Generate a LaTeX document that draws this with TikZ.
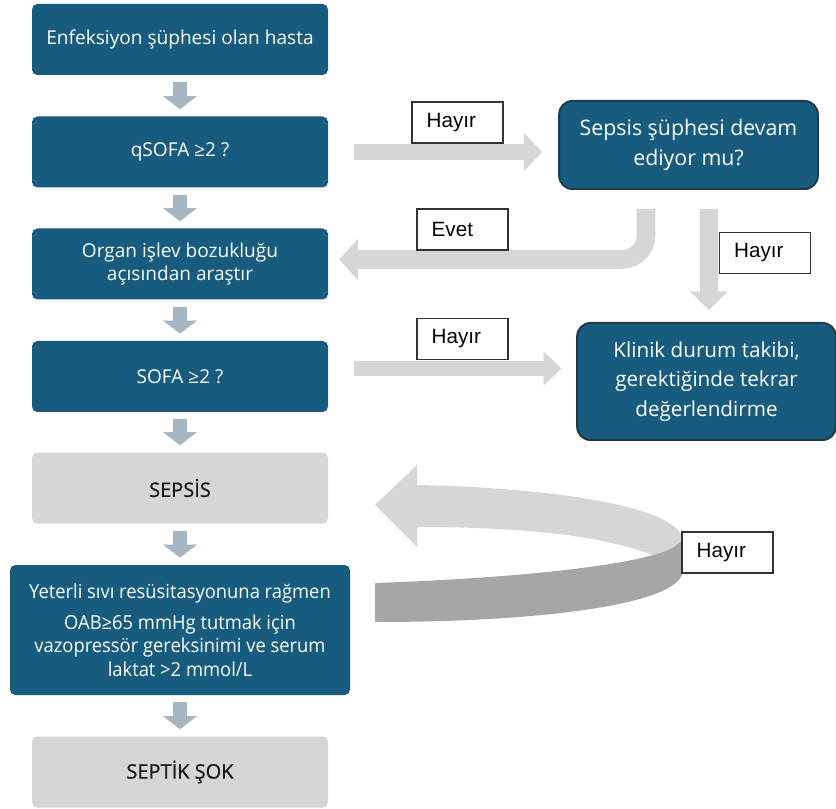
\documentclass[tikz,border=0pt]{standalone}
\usepackage{fontspec}
\setmainfont{Open Sans}
\newfontfamily\narrowfont[FakeStretch=0.95]{Open Sans}
\newfontfamily\grayfont[FakeBold=0.8]{Open Sans}
\newfontfamily\labelfont{Liberation Sans}
\usepackage{tikz}
\usetikzlibrary{positioning,arrows.meta}
\definecolor{boxblue}{HTML}{175C7E}
\definecolor{boxgray}{HTML}{D6D6D6}
\definecolor{flowgray}{HTML}{A7B4C2}
\definecolor{ribbon}{HTML}{A6A6A6}
\definecolor{edgeblue}{HTML}{1E3A4C}

\begin{document}
\begin{tikzpicture}[x=0.75pt,y=-0.75pt,
    box/.style={rounded corners=4pt,fill=boxblue,text=white,minimum width=222pt,minimum height=53.25pt,align=center,font=\fontsize{14.3}{17}\selectfont},
    graybox/.style={box,fill=boxgray,text=black!90,font=\grayfont\fontsize{15}{17}\selectfont},
    sidebox/.style={box,rounded corners=10pt,draw=edgeblue,line width=1.5pt,minimum width=194pt},
    answer/.style={draw=black!80,line width=0.8pt,fill=white,text width=46.25pt,inner xsep=11pt,minimum height=30.75pt,align=left,font=\labelfont\fontsize{15.5}{17}\selectfont},
    down/.style={draw=flowgray,line width=10.5pt,-{Triangle[length=9.75pt,width=24.75pt]},shorten <=5.25pt,shorten >=5.25pt},
    wide/.style={draw=boxgray,line width=12pt,-{Triangle[length=13.5pt,width=27.75pt]}}]
    \fill[white,use as bounding box] (0,0) rectangle (836,809);

    \node[box] (inf) at (180,39.5) {Enfeksiyon şüphesi olan hasta};
    \node[box] (qs) at (180,152) {qSOFA ≥2 ?};
    \node[box] (org) at (180,264) {Organ işlev bozukluğu\\açısından araştır};
    \node[box] (sofa) at (180,376.5) {SOFA ≥2 ?};
    \node[graybox] (sep) at (180,488) {SEPSİS};
    \node[box,minimum width=255pt,minimum height=97.5pt,font=\narrowfont\fontsize{14.5}{17.5}\selectfont] (vaz) at (180,630) {Yeterli sıvı resüsitasyonuna rağmen\\[6pt]OAB≥65 mmHg tutmak için\\vazopressör gereksinimi ve serum\\laktat >2 mmol/L};
    \node[graybox] (shock) at (180,772) {SEPTİK ŞOK};
    \node[sidebox,minimum height=66pt,font=\fontsize{16}{22.5}\selectfont] (sus) at (688.5,145) {Sepsis şüphesi devam\\ediyor mu?};
    \node[sidebox,minimum height=87.75pt,font=\fontsize{15.5}{22}\selectfont] (kl) at (706.5,381.5) {Klinik durum takibi,\\gerektiğinde tekrar\\değerlendirme};

    \foreach \a/\b in {inf/qs,qs/org,org/sofa,sofa/sep,sep/vaz,vaz/shock}
        \draw[down] (\a) -- (\b);

    \coordinate (evtop) at (646,209);
    \coordinate (hytop) at (709,209);
    \draw[wide] ([xshift=19.5pt]qs.east) -- ([xshift=-12pt]qs.east -| sus.west);
    \draw[wide,line width=14pt,rounded corners=18pt,-{Triangle[length=14pt,width=30pt]}] (evtop) |- ([xshift=8.25pt,yshift=3.4pt]org.east);
    \draw[wide,line width=13.5pt,-{Triangle[length=14pt,width=27.75pt]}] (hytop) -- ([yshift=9pt]hytop |- kl.north);
    \draw[wide,line width=11.25pt,-{Triangle[length=13.5pt,width=24.75pt]}] ([xshift=19.5pt,yshift=6pt]sofa.east) -- ([xshift=-11pt,yshift=6pt]sofa.east -| kl.west);

    \fill[ribbon] (375,583) .. controls (520,578) and (615,566) .. (653,555) .. controls (668,550) and (678,545) .. (682,540) -- (682,575) .. controls (670,605) and (540,622) .. (375,622) -- cycle;
    \fill[boxgray] (375,505) -- (417,465) -- (417,485) .. controls (560,488) and (682,508) .. (682,540) .. controls (675,548) and (665,552) .. (653,555) .. controls (600,535) and (520,527) .. (417,527) -- (417,547) -- cycle;

    \node[answer] (h1) at (457.5,122.5) {Hayır};
    \node[answer] (ev) at (462.5,229.5) {Evet};
    \node[answer] (h2) at (765,253) {Hayır};
    \node[answer] (h3) at (462.5,339) {Hayır};
    \node[answer] (h4) at (727.5,552.5) {Hayır};
\end{tikzpicture}
\end{document}
